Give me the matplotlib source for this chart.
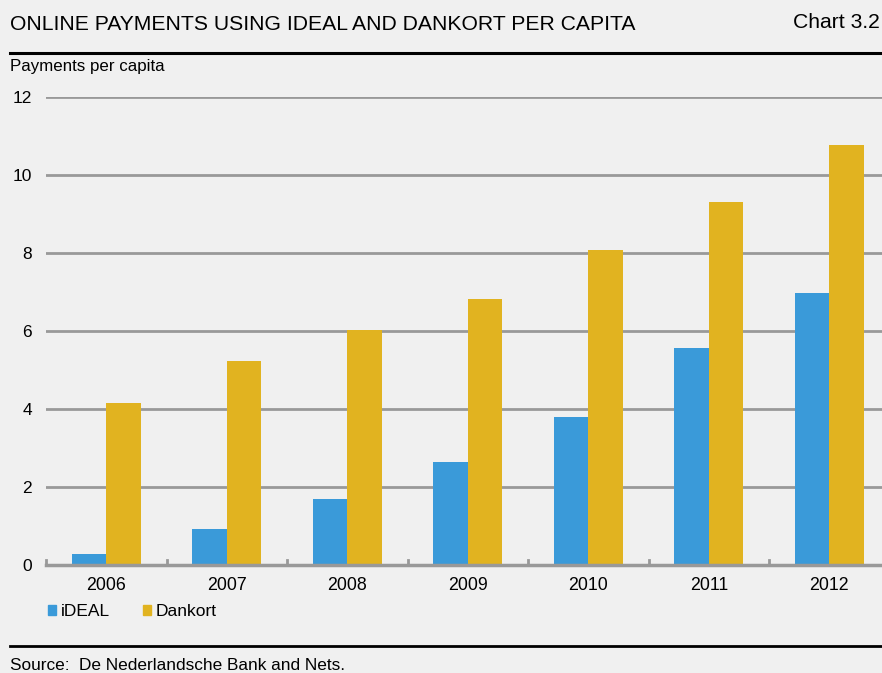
import numpy as np
import matplotlib.pyplot as plt
from matplotlib.lines import Line2D
from matplotlib.patches import Patch

years = ['2006', '2007', '2008', '2009', '2010', '2011', '2012']
ideal = [0.28, 0.92, 1.70, 2.64, 3.79, 5.56, 6.97]
dankort = [4.15, 5.23, 6.03, 6.82, 8.08, 9.30, 10.78]

bg = '#f0f0f0'
blue = '#3a9ad9'
gold = '#e1b320'

plt.rcParams['font.family'] = ['Liberation Sans', 'DejaVu Sans']

W, H = 882, 673
fig = plt.figure(figsize=(W / 100, H / 100), dpi=100, facecolor=bg)

# axes: x from 46px to ~889px, y from 565px (0) to 97px (12)
ax = fig.add_axes([46 / W, 1 - 565 / H, (889.5 - 46) / W, (565 - 97) / H])
ax.set_facecolor(bg)

x = np.arange(len(years))
w = 0.286
ax.bar(x - w / 2, ideal, w, color=blue, zorder=3, label='iDEAL')
ax.bar(x + w / 2, dankort, w, color=gold, zorder=3, label='Dankort')

ax.set_ylim(0, 12)
ax.set_xlim(-0.5, len(years) - 0.5)
ax.set_yticks([0, 2, 4, 6, 8, 10, 12])
ax.yaxis.grid(True, color='#999999', linewidth=2, zorder=0)
ax.tick_params(axis='y', length=0, pad=10, labelsize=12.5)

ax.set_xticks(x)
ax.set_xticklabels(years)
ax.tick_params(axis='x', length=0, pad=9, labelsize=12.8)
for b in np.arange(-0.5, len(years), 1):
    ax.plot([b, b], [0, 0.13], color='#999999', lw=2, zorder=4, clip_on=False)

for s in ['top', 'right', 'left']:
    ax.spines[s].set_visible(False)
ax.spines['bottom'].set_color('#999999')
ax.spines['bottom'].set_linewidth(2.5)
ax.spines['bottom'].set_zorder(4)

# header
fig.text(10 / W, 1 - 25 / H, 'ONLINE PAYMENTS USING IDEAL AND DANKORT PER CAPITA',
         fontsize=15.2, va='center', ha='left')
fig.text(880 / W, 1 - 22 / H, 'Chart 3.2', fontsize=15.2, va='center', ha='right')
fig.add_artist(Line2D([10 / W, 1], [1 - 53 / H, 1 - 53 / H], color='black', lw=2.2))
fig.text(10 / W, 1 - 67 / H, 'Payments per capita', fontsize=12.2, va='center', ha='left')

# legend
handles = [Patch(color=blue, label='iDEAL'), Patch(color=gold, label='Dankort')]
fig.legend(handles=handles, loc='center left', bbox_to_anchor=(32 / W, 1 - 612 / H),
           ncol=2, frameon=False, fontsize=12.5, handlelength=0.5, handleheight=0.5,
           handletextpad=0.25, columnspacing=1.9)

# footer
fig.add_artist(Line2D([10 / W, 1], [1 - 646 / H, 1 - 646 / H], color='black', lw=2))
fig.text(10 / W, 1 - 665 / H, 'Source:  De Nederlandsche Bank and Nets.',
         fontsize=12.4, va='center', ha='left')

fig.savefig('out.png', dpi=100, facecolor=bg)
